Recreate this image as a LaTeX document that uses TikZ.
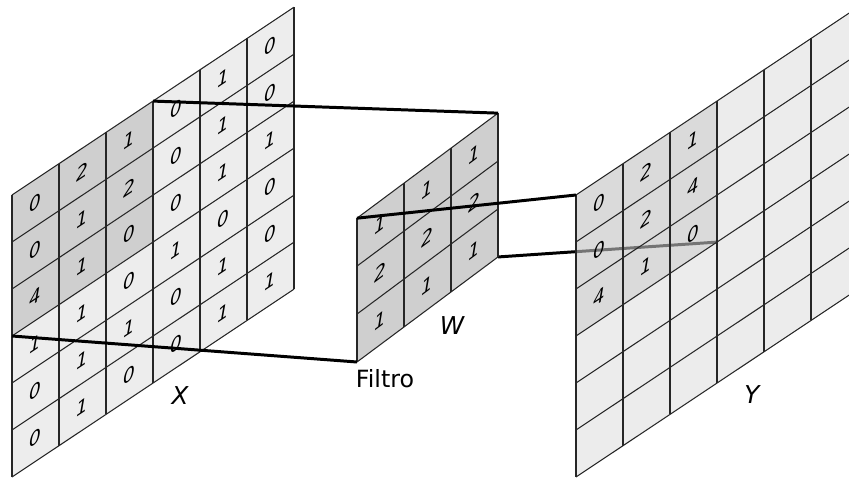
\documentclass[tikz,border=0pt]{standalone}
\usepackage{fontspec}
\setmainfont{DejaVu Sans}
\setsansfont{DejaVu Sans}
\usetikzlibrary{backgrounds}

\tikzset{
    cellline/.style={draw=black!85, line width=0.6pt},
    cellnum/.style={font=\itshape\fontsize{10.5}{12}\selectfont, text=black, transform shape, inner sep=0pt},
    conn/.style={line width=1.7pt},
    planelabel/.style={font=\itshape\fontsize{14}{16}\selectfont},
}

\begin{document}
\begin{tikzpicture}[x=0.02cm, y=0.02cm]
    \def\S{47} % cell size (px)
    \useasboundingbox (0,0) rectangle (849,478);
    \clip (0,0) rectangle (849,478);

    % input X
    \begin{scope}[shift={(12,1)}, yslant=0.666]
        \fill[black!7] (0,0) rectangle (6*\S,6*\S);
        \fill[black!19] (0,3*\S) rectangle (3*\S,6*\S);
        \foreach \i in {0,...,6}
            \draw[cellline] (\i*\S,0) -- (\i*\S,6*\S);
        \foreach \i in {0,...,6}
            \draw[cellline] (0,\i*\S) -- (6*\S,\i*\S);
        \foreach[count=\r] \row in {{0,2,1,0,1,0},{0,1,2,0,1,0},{4,1,0,0,1,1},{1,1,0,1,0,0},{0,1,1,0,1,0},{0,1,0,0,1,1}}
            \foreach[count=\c] \v in \row
                \node[cellnum] (x\r\c) at (\c*\S-.5*\S, 6.5*\S-\r*\S) {\v};
        \coordinate (xTR) at (3*\S,6*\S);
        \coordinate (xBL) at (0,3*\S);
    \end{scope}

    % filter W
    \begin{scope}[shift={(357,116)}, yslant=0.745, yscale=1.02]
        \fill[black!19] (0,0) rectangle (3*\S,3*\S);
        \foreach \i in {0,...,3}
            \draw[cellline] (\i*\S,0) -- (\i*\S,3*\S);
        \foreach \i in {0,...,3}
            \draw[cellline] (0,\i*\S) -- (3*\S,\i*\S);
        \foreach[count=\r] \row in {{1,1,1},{2,2,2},{1,1,1}}
            \foreach[count=\c] \v in \row
                \node[cellnum] (w\r\c) at (\c*\S-.5*\S, 3.5*\S-\r*\S) {\v};
        \coordinate (wTL) at (0,3*\S);
        \coordinate (wTR) at (3*\S,3*\S);
        \coordinate (wBL) at (0,0);
        \coordinate (wBR) at (3*\S,0);
    \end{scope}

    \draw[conn] (xTR) -- (wTR);
    \draw[conn] (xBL) -- (wBL);

    % output Y (see-through)
    \begin{scope}[shift={(576,1)}, yslant=0.666]
        \fill[black!12, fill opacity=0.6] (0,0) -- (6*\S,0) -- (6*\S,6*\S) -- (3*\S,6*\S)
            -- (3*\S,3*\S) -- (0,3*\S) -- cycle;
        \fill[black!24, fill opacity=0.6] (0,3*\S) rectangle (3*\S,6*\S);
        \foreach \i in {0,...,6}
            \draw[cellline] (\i*\S,0) -- (\i*\S,6*\S);
        \foreach \i in {0,...,6}
            \draw[cellline] (0,\i*\S) -- (6*\S,\i*\S);
        \foreach[count=\r] \row in {{0,2,1},{0,2,4},{4,1,0}}
            \foreach[count=\c] \v in \row
                \node[cellnum] (y\r\c) at (\c*\S-.5*\S, 6.5*\S-\r*\S) {\v};
        \coordinate (yTL) at (0,6*\S);
        \coordinate (yBR) at (3*\S,3*\S);
    \end{scope}

    \begin{scope}[on background layer]
        \draw[conn] (wBR) -- (yBR);
    \end{scope}
    \draw[conn] (wTL) -- (yTL);

    \node[planelabel] (xname) at (180,82) {X};
    \node[planelabel] (wname) at (452,152) {W};
    \node[planelabel] (yname) at (752,83) {Y};
    \node[font=\fontsize{13.5}{16}\selectfont] (filtro) at (385,99) {Filtro};
\end{tikzpicture}
\end{document}
